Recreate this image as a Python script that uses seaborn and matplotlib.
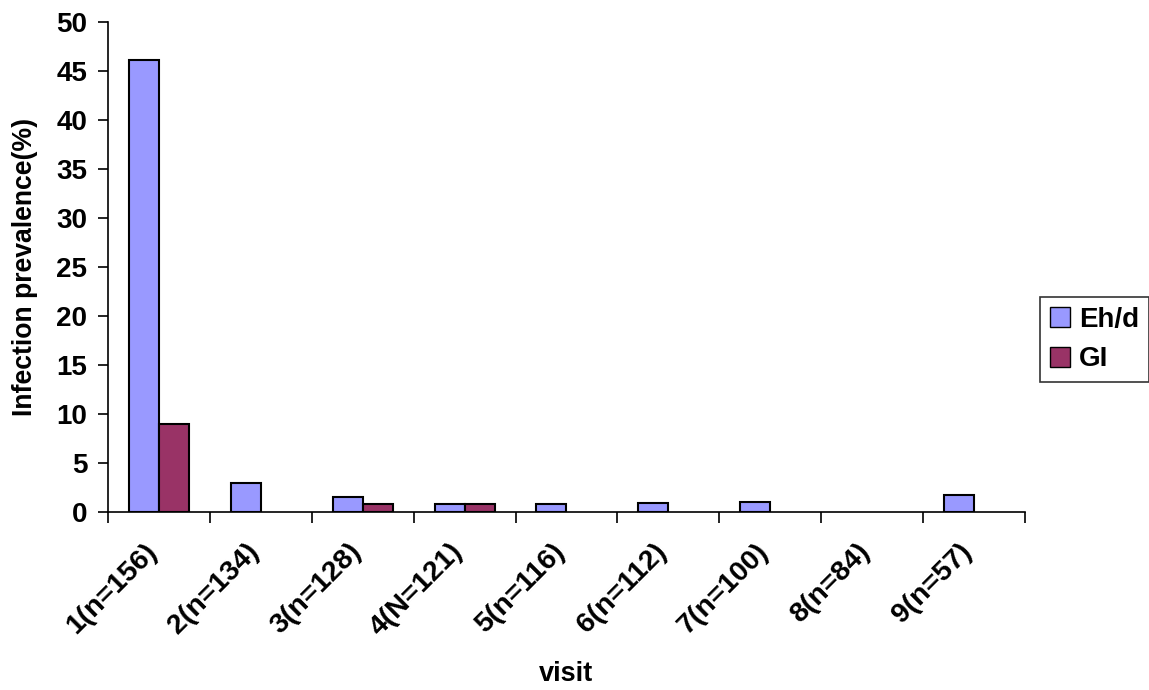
import matplotlib
matplotlib.use("Agg")
import matplotlib.pyplot as plt
import matplotlib.transforms as mtransforms
import seaborn as sns
import pandas as pd
from matplotlib.patches import Patch

visits = ["1(n=156)", "2(n=134)", "3(n=128)", "4(N=121)", "5(n=116)",
          "6(n=112)", "7(n=100)", "8(n=84)", "9(n=57)"]
eh_d = [46.15, 2.99, 1.56, 0.83, 0.86, 0.89, 1.0, 0.0, 1.75]
gi = [8.97, 0.0, 0.78, 0.83, 0.0, 0.0, 0.0, 0.0, 0.0]
series = ["Eh/d", "GI"]
colors = ["#9999FF", "#993366"]

df = pd.DataFrame({
    "visit": visits * 2,
    "value": eh_d + gi,
    "series": [series[0]] * len(visits) + [series[1]] * len(visits),
})

sns.set_style("white", {"xtick.bottom": True, "ytick.left": True})
plt.rcParams["font.family"] = ["Liberation Sans", "DejaVu Sans"]
plt.rcParams["font.weight"] = "bold"
for k in ["text.color", "axes.labelcolor", "xtick.color", "ytick.color"]:
    plt.rcParams[k] = "black"

fig = plt.figure(figsize=(11.49, 6.9), dpi=100)
ax = fig.add_axes([0.094, 0.258, 0.798, 0.71])

sns.barplot(data=df, x="visit", y="value", hue="series", palette=colors,
            width=0.59, edgecolor="black", linewidth=1.5, ax=ax,
            legend=False, saturation=1)
for p in ax.patches:
    if p.get_height() == 0:
        p.set_visible(False)

ax.set_xlim(-0.5, len(visits) - 0.5)
ax.set_ylim(0, 50)
ax.set_yticks(range(0, 51, 5))
ax.set_xticks(range(len(visits)))
ax.set_xticks([i - 0.5 for i in range(len(visits) + 1)], minor=True)
ax.tick_params(axis="x", which="major", length=0, pad=14)
ax.tick_params(axis="x", which="minor", bottom=True, length=8, width=1.2,
               direction="out", color="black")
ax.tick_params(axis="y", left=True, length=7, width=1.2, direction="out",
               color="black", labelsize=20, pad=8)
ax.set_xticklabels(visits, rotation=45, ha="right", rotation_mode="anchor",
                   fontsize=20.5, fontweight="bold")
offset = mtransforms.ScaledTranslation(-0.15, -0.07, fig.dpi_scale_trans)
for lab in ax.get_xticklabels():
    lab.set_transform(lab.get_transform() + offset)
for lab in ax.get_yticklabels():
    lab.set_fontweight("bold")

for side in ["top", "right"]:
    ax.spines[side].set_visible(False)
for side in ["left", "bottom"]:
    ax.spines[side].set_color("black")
    ax.spines[side].set_linewidth(1.2)

ax.set_xlabel("visit", fontsize=19.5, fontweight="bold")
ax.xaxis.set_label_coords(0.5, -0.305)
ax.set_ylabel("Infection prevalence(%)", fontsize=19.2, fontweight="bold", labelpad=13)

handles = [Patch(facecolor=c, edgecolor="black", label=s) for c, s in zip(colors, series)]
leg = fig.legend(handles=handles, loc="center left", bbox_to_anchor=(0.905, 0.508),
                 frameon=True, fancybox=False, edgecolor="black",
                 prop={"size": 20, "weight": "bold"}, handlelength=0.75,
                 handleheight=0.75, handletextpad=0.3, borderpad=0.35,
                 labelspacing=0.5, borderaxespad=0)
leg.get_frame().set_linewidth(1.2)

fig.savefig("out.png", dpi=100)
